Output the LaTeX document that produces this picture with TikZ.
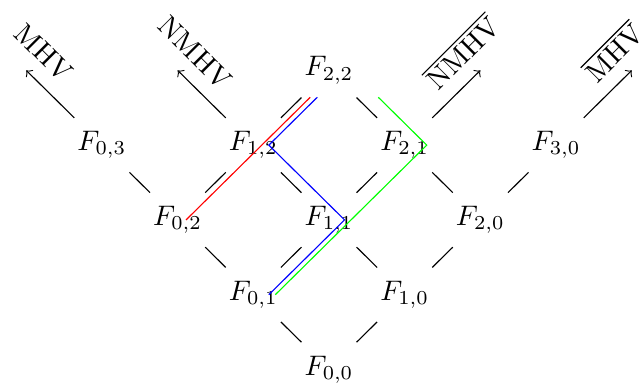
\documentclass[tikz,border=0pt]{standalone}
\usepackage{amsmath}
\usepackage{tikz}
\usetikzlibrary{calc}

\begin{document}
\begin{tikzpicture}[
    x=0.9415cm,
    y=0.930cm,
    fnode/.style={
        inner sep=4.6pt
    },
    link/.style={-, black},
    helarr/.style={->, black},
    amplab/.style={
        anchor=south,
        inner sep=5pt
    },
    redpath/.style={red},
    bluepath/.style={blue},
    greenpath/.style={green}
]
\useasboundingbox (-4.092cm,-0.206cm) rectangle (3.868cm,4.595cm);

% Nodes
\node[fnode] (F00) at (0,0) {$F_{0,0}$};
\node[fnode] (F01) at (-1,1) {$F_{0,1}$};
\node[fnode] (F10) at (1,1) {$F_{1,0}$};
\node[fnode] (F02) at (-2,2) {$F_{0,2}$};
\node[fnode] (F11) at (0,2) {$F_{1,1}$};
\node[fnode] (F20) at (2,2) {$F_{2,0}$};
\node[fnode] (F03) at (-3,3) {$F_{0,3}$};
\node[fnode] (F12) at (-1,3) {$F_{1,2}$};
\node[fnode] (F21) at (1,3) {$F_{2,1}$};
\node[fnode] (F30) at (3,3) {$F_{3,0}$};
\node[fnode] (F22) at (0,4) {$F_{2,2}$};

% Ends of the helicity arrows
\coordinate (mhvL) at (-4,4);
\coordinate (nmhvL) at (-2,4);
\coordinate (nmhvR) at (2,4);
\coordinate (mhvR) at (4,4);

% Links
\draw[link] (F00) -- (F01);
\draw[link] (F00) -- (F10);
\draw[link] (F01) -- (F02);
\draw[link] (F01) -- (F11);
\draw[link] (F10) -- (F11);
\draw[link] (F10) -- (F20);
\draw[link] (F02) -- (F03);
\draw[link] (F02) -- (F12);
\draw[link] (F11) -- (F12);
\draw[link] (F11) -- (F21);
\draw[link] (F20) -- (F21);
\draw[link] (F20) -- (F30);
\draw[link] (F12) -- (F22);
\draw[link] (F21) -- (F22);

% Helicity arrows
\draw[helarr] (F03) -- (mhvL);
\draw[helarr] (F12) -- (nmhvL);
\draw[helarr] (F21) -- (nmhvR);
\draw[helarr] (F30) -- (mhvR);

\node[amplab, rotate=-45] (labA) at (mhvL) {MHV};
\node[amplab, rotate=-45] (labB) at (nmhvL) {NMHV};
\node[amplab, rotate=45] (labC) at (nmhvR) {$\overline{\mathrm{NMHV}}$};
\node[amplab, rotate=45] (labD) at (mhvR) {$\overline{\mathrm{MHV}}$};

% Recursion paths
\draw[redpath]
    ([xshift=3pt]F02.center) --
    ($(F12)!0.64!(F22)+(3pt,0)$);

\draw[bluepath]
    ([xshift=5.5pt]F01.center) --
    ([xshift=5.5pt]F11.center) --
    ([xshift=5.5pt]F12.center) --
    ($(F12)!0.64!(F22)+(5.5pt,0)$);

\draw[greenpath]
    ([xshift=7.8pt]F01.center) --
    ([xshift=7.8pt]F21.center) --
    ($(F21)!0.64!(F22)+(7.8pt,0)$);
\end{tikzpicture}
\end{document}
